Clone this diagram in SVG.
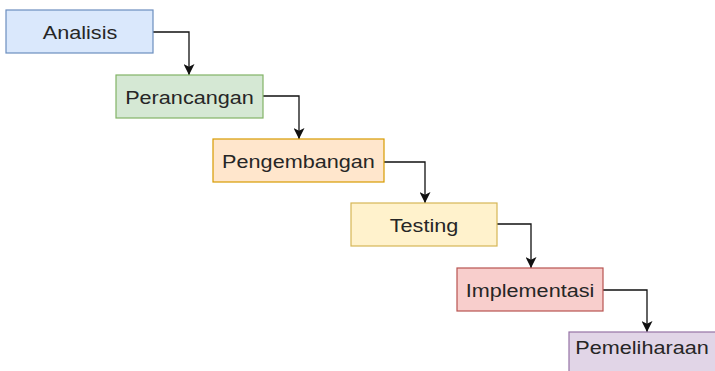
<svg xmlns="http://www.w3.org/2000/svg" width="715" height="371" viewBox="0 0 715 371">
  <style>
    .box { stroke-width: 1.2; }
    .lbl { font-family: "Liberation Sans", Arial, sans-serif; font-size: 18.5px; fill: #262626; text-anchor: middle; }
    .conn { fill: none; stroke: #111111; stroke-width: 1.3; }
  </style>
  <defs>
    <marker id="arrow" viewBox="0 0 10 10" refX="10" refY="5" markerWidth="11" markerHeight="11" markerUnits="userSpaceOnUse" orient="auto">
      <path d="M0,0 L10,5 L0,10 L2.5,5 Z" fill="#111111"/>
    </marker>
  </defs>
  <rect width="715" height="371" fill="#ffffff"/>

  <g id="connectors">
    <path class="conn" d="M153,32 H189 V75" marker-end="url(#arrow)"/>
    <path class="conn" d="M263,96 H299 V139" marker-end="url(#arrow)"/>
    <path class="conn" d="M384,162 H425 V203" marker-end="url(#arrow)"/>
    <path class="conn" d="M497,224 H531 V268" marker-end="url(#arrow)"/>
    <path class="conn" d="M603,290 H647 V332" marker-end="url(#arrow)"/>
  </g>

  <g id="analisis">
    <rect class="box" x="6" y="10" width="147" height="43" fill="#dae8fc" stroke="#6c8ebf"/>
    <text class="lbl" transform="translate(80,38.5) scale(1.17,1)">Analisis</text>
  </g>
  <g id="perancangan">
    <rect class="box" x="116" y="75" width="147" height="43" fill="#d5e8d4" stroke="#82b366"/>
    <text class="lbl" transform="translate(189.5,103.5) scale(1.17,1)">Perancangan</text>
  </g>
  <g id="pengembangan">
    <rect class="box" x="213" y="139" width="171" height="43" fill="#ffe6cc" stroke="#d79b00"/>
    <text class="lbl" transform="translate(298.5,167.5) scale(1.17,1)">Pengembangan</text>
  </g>
  <g id="testing">
    <rect class="box" x="351" y="203" width="146" height="43" fill="#fff2cc" stroke="#d6b656"/>
    <text class="lbl" transform="translate(424,231.5) scale(1.17,1)">Testing</text>
  </g>
  <g id="implementasi">
    <rect class="box" x="457" y="268" width="146" height="43" fill="#f8cecc" stroke="#b85450"/>
    <text class="lbl" transform="translate(530,296.5) scale(1.17,1)">Implementasi</text>
  </g>
  <g id="pemeliharaan">
    <rect class="box" x="569" y="332" width="150" height="43" fill="#e1d5e7" stroke="#9673a6"/>
    <text class="lbl" transform="translate(642,353.5) scale(1.17,1)">Pemeliharaan</text>
  </g>
</svg>
